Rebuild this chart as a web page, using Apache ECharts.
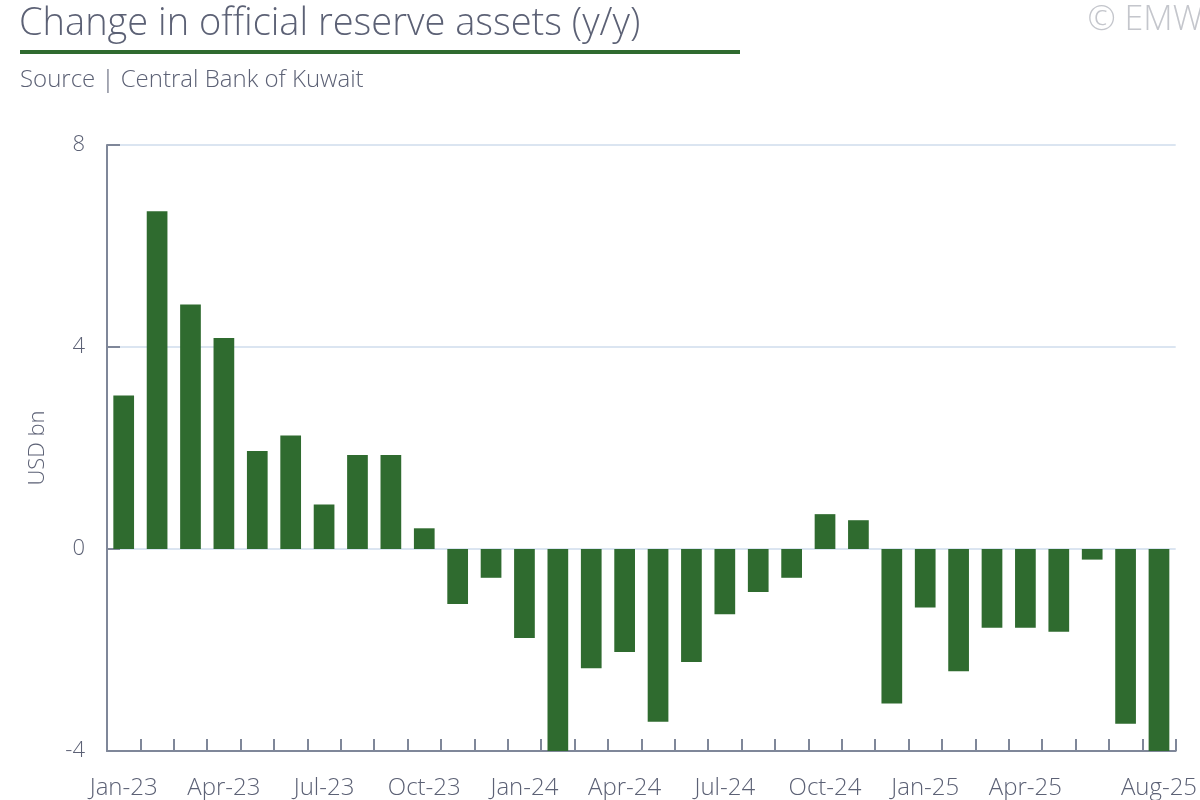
<!DOCTYPE html>
<html>
<head>
<meta charset="utf-8">
<script src="https://cdn.jsdelivr.net/npm/echarts@6/dist/echarts.min.js"></script>
<style>
html,body{margin:0;padding:0;background:#fff;}
#chart{width:1200px;height:800px;}
</style>
</head>
<body>
<div id="chart"></div>
<script>
const categories = ['Jan-23','Feb-23','Mar-23','Apr-23','May-23','Jun-23','Jul-23','Aug-23','Sep-23','Oct-23','Nov-23','Dec-23',
  'Jan-24','Feb-24','Mar-24','Apr-24','May-24','Jun-24','Jul-24','Aug-24','Sep-24','Oct-24','Nov-24','Dec-24',
  'Jan-25','Feb-25','Mar-25','Apr-25','May-25','Jun-25','Jul-25','Aug-25'];
const reserveChange = [3.04, 6.69, 4.84, 4.18, 1.94, 2.25, 0.88, 1.86, 1.86, 0.41, -1.09, -0.57,
  -1.76, -4.0, -2.36, -2.04, -3.42, -2.24, -1.29, -0.85, -0.57, 0.69, 0.57, -3.06,
  -1.16, -2.42, -1.56, -1.56, -1.64, -0.21, -3.46, -4.0];
const yTicks = [-4, 0, 4, 8];

const textColor = '#5c6175';
const axisColor = '#7f8799';
const green = '#2f6b2f';
const fontFam = '"Open Sans", Lato, sans-serif';

const chart = echarts.init(document.getElementById('chart'));
chart.setOption({
  backgroundColor: '#fff',
  animation: false,
  graphic: [
    {type:'text', left:19, top:5, style:{text:'Change in official reserve assets (y/y)', fill:textColor, font:'300 38px ' + fontFam}},
    {type:'rect', shape:{x:20, y:50, width:720, height:4}, style:{fill:green}},
    {type:'text', left:20, top:68, style:{text:'Source | Central Bank of Kuwait', fill:textColor, font:'300 24px ' + fontFam}},
    {type:'text', right:-3, top:3, style:{text:'© EMW', fill:'#c4c6cc', font:'300 34px ' + fontFam}}
  ],
  grid: {left:107, right:20, top:145, bottom:49, containLabel:false},
  xAxis: {
    type:'category',
    data: categories,
    axisLine:{onZero:false, lineStyle:{color:axisColor, width:2}},
    axisTick:{show:true, inside:true, length:12, interval:0, lineStyle:{color:axisColor, width:2}},
    axisLabel:{
      color:textColor, fontSize:24, fontFamily:fontFam, fontWeight:300, margin:25,
      interval:function(i){ return (i % 3 === 0 && i !== 30) || i === 31; }
    },
    splitLine:{show:false}
  },
  yAxis: {
    type:'value',
    min: yTicks[0], max: yTicks[yTicks.length-1], interval: 4,
    name:'USD bn',
    nameLocation:'middle',
    nameGap:58,
    nameRotate:90,
    nameTextStyle:{color:textColor, fontSize:22, fontFamily:fontFam, fontWeight:300},
    axisLine:{show:true, lineStyle:{color:axisColor, width:2}},
    axisTick:{show:true, inside:true, length:13, lineStyle:{color:axisColor, width:2}},
    axisLabel:{color:textColor, fontSize:22, fontFamily:fontFam, fontWeight:300, margin:22},
    splitLine:{show:true, lineStyle:{color:'#dbe5f1', width:2}}
  },
  series: [{
    type:'bar',
    data: reserveChange,
    barWidth:'62%',
    itemStyle:{color:green},
    z:1
  }]
});
</script>
</body>
</html>
